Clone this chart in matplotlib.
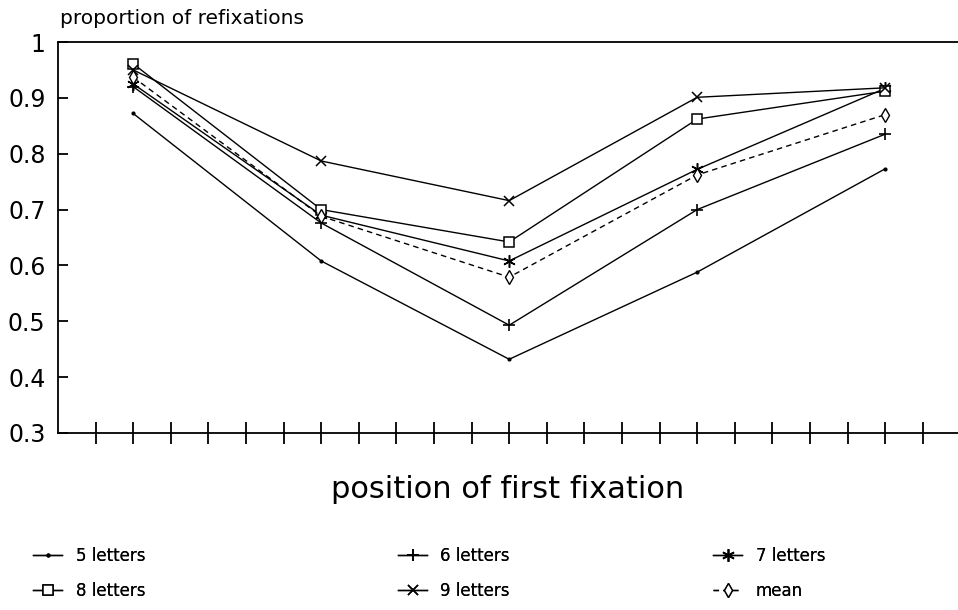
import matplotlib
matplotlib.use("Agg")
import matplotlib.pyplot as plt

# ---- data ----
positions = [2, 7, 12, 17, 22]          # position of first fixation (tick units)
tick_positions = list(range(1, 24))
five_letters = [0.872, 0.608, 0.432, 0.588, 0.773]
six_letters = [0.920, 0.676, 0.493, 0.700, 0.835]
seven_letters = [0.925, 0.690, 0.608, 0.772, 0.917]
eight_letters = [0.961, 0.700, 0.642, 0.862, 0.912]
nine_letters = [0.950, 0.787, 0.716, 0.901, 0.918]
mean_values = [0.937, 0.688, 0.579, 0.762, 0.870]
y_ticks = [0.3, 0.4, 0.5, 0.6, 0.7, 0.8, 0.9, 1.0]
y_tick_labels = ["0.3", "0.4", "0.5", "0.6", "0.7", "0.8", "0.9", "1"]
series_labels = ["5 letters", "6 letters", "7 letters", "8 letters", "9 letters", "mean"]

plt.rcParams['font.family'] = ['DejaVu Sans']

W, H = 958, 610
fig = plt.figure(figsize=(W / 100, H / 100), dpi=100)
ax = fig.add_axes([58 / W, 1 - 433 / H, 1 - 58 / W, (433 - 42) / H])

lw = 1.0
asterisk = (6, 2, 0)
styles = [
    dict(marker='.', ms=4, ls='-'),
    dict(marker='+', ms=9, mew=1.2, ls='-'),
    dict(marker=asterisk, ms=9, mew=1.1, ls='-'),
    dict(marker='s', ms=6.5, mew=1.1, mfc='white', ls='-'),
    dict(marker='x', ms=7, mew=1.1, ls='-'),
    dict(marker='d', ms=7, mew=1.0, mfc='white', ls=(0, (4, 3))),
]
all_series = [five_letters, six_letters, seven_letters, eight_letters, nine_letters, mean_values]
handles = []
for vals, st, lab in zip(all_series, styles, series_labels):
    h, = ax.plot(positions, vals, color='black', lw=lw, label=lab, **st)
    handles.append(h)

ax.set_xlim(0, 900 / 37.6)
ax.set_ylim(0.3, 1.0)
ax.set_xticks(tick_positions)
ax.set_xticklabels([])
ax.set_yticks(y_ticks)
ax.set_yticklabels(y_tick_labels, fontsize=17)
ax.tick_params(axis='x', direction='inout', length=16, width=1.3, color='black')
ax.tick_params(axis='y', direction='in', length=7, width=1.3, pad=9)
ax.spines['right'].set_visible(False)
for s in ['left', 'top', 'bottom']:
    ax.spines[s].set_linewidth(1.3)

fig.text(60 / W, 1 - 18 / H, "proportion of refixations", fontsize=14.5,
         ha='left', va='center')
fig.text(508 / W, 1 - 490 / H, "position of first fixation", fontsize=22,
         ha='center', va='center')

# legend: three columns, two rows
col_x = [33 / W, 398 / W, 713 / W]
row_y = 1 - 547 / H
for c in range(3):
    hs = [handles[c], handles[c + 3]]
    leg = fig.legend(hs, [h.get_label() for h in hs], loc='upper left',
                     bbox_to_anchor=(col_x[c], row_y), frameon=False,
                     fontsize=12, handlelength=1.75, handletextpad=0.8,
                     numpoints=1, labelspacing=1.0, borderaxespad=0,
                     borderpad=0)
    fig.add_artist(leg)

fig.savefig("out.png", dpi=100)
